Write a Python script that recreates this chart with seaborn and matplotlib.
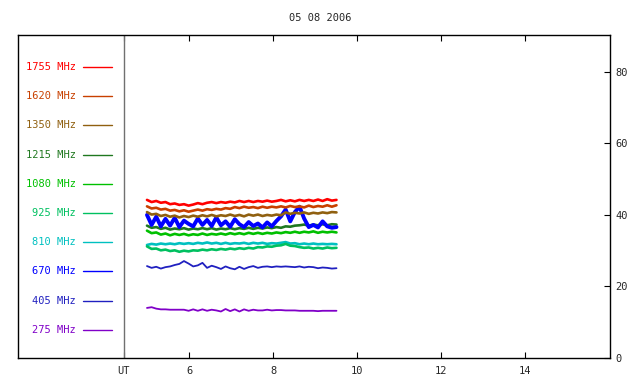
import numpy as np
import pandas as pd
import seaborn as sns
import matplotlib.pyplot as plt

# UT hours of the samples
ut = [5.00, 5.11, 5.22, 5.33, 5.44, 5.55, 5.66, 5.77, 5.88, 5.99, 6.10, 6.21, 6.32, 6.43,
      6.54, 6.65, 6.76, 6.87, 6.98, 7.09, 7.20, 7.31, 7.42, 7.53, 7.64, 7.75, 7.86, 7.97,
      8.08, 8.19, 8.30, 8.41, 8.52, 8.63, 8.74, 8.85, 8.96, 9.07, 9.18, 9.29, 9.40, 9.51]

freqs = ['1755 MHz', '1620 MHz', '1350 MHz', '1215 MHz', '1080 MHz',
         '925 MHz', '810 MHz', '670 MHz', '405 MHz', '275 MHz']
colors = ['#ff0000', '#c84000', '#906010', '#207820', '#00c000',
          '#00c060', '#00c0c0', '#0000ff', '#2020c0', '#8000c8']

f1755 = [44.2, 43.6, 43.9, 43.4, 43.6, 43.0, 43.2, 42.8, 43.0, 42.6, 42.9, 43.3, 43.0, 43.4,
         43.6, 43.3, 43.6, 43.4, 43.7, 43.5, 43.9, 43.6, 43.9, 43.6, 43.9, 43.7, 44.0, 43.7,
         43.9, 44.2, 43.8, 44.1, 43.8, 44.2, 43.9, 44.2, 43.9, 44.3, 43.9, 44.4, 44.0, 44.2]
f1620 = [42.4, 41.8, 42.0, 41.5, 41.7, 41.2, 41.4, 41.0, 41.3, 40.9, 41.2, 41.5, 41.2, 41.6,
         41.4, 41.7, 41.5, 41.9, 41.7, 42.2, 41.9, 42.3, 42.0, 42.2, 41.9, 42.3, 42.0, 42.3,
         42.1, 42.4, 42.1, 42.5, 42.2, 42.4, 42.1, 42.6, 42.2, 42.5, 42.3, 42.7, 42.3, 42.7]
f1350 = [40.8, 40.1, 40.3, 39.7, 40.0, 39.5, 39.8, 39.3, 39.7, 39.4, 39.8, 39.5, 39.9, 39.6,
         40.0, 39.6, 39.9, 39.7, 40.1, 39.7, 40.0, 39.6, 40.1, 39.8, 40.1, 39.7, 40.0, 39.8,
         40.1, 39.9, 40.7, 40.3, 40.6, 40.4, 40.7, 40.3, 40.6, 40.4, 40.7, 40.5, 40.8, 40.7]
f1215 = [37.0, 36.4, 36.6, 36.1, 36.4, 35.9, 36.2, 36.0, 36.3, 35.9, 36.2, 36.0, 36.3, 36.0,
         36.3, 35.9, 36.2, 36.0, 36.3, 36.0, 36.3, 36.1, 36.4, 36.1, 36.4, 36.2, 36.5, 36.3,
         36.6, 36.4, 36.8, 36.7, 37.0, 37.1, 37.3, 37.0, 37.3, 37.1, 37.4, 37.1, 37.4, 37.3]
f1080 = [35.6, 34.9, 35.1, 34.5, 34.8, 34.3, 34.7, 34.4, 34.7, 34.3, 34.6, 34.4, 34.8, 34.4,
         34.7, 34.5, 34.8, 34.5, 34.9, 34.6, 34.9, 34.6, 35.0, 34.7, 35.0, 34.7, 35.0, 34.8,
         35.1, 34.9, 35.2, 35.0, 35.3, 35.0, 35.3, 35.1, 35.4, 35.0, 35.3, 35.1, 35.3, 35.1]
f925 = [31.2, 30.5, 30.6, 30.1, 30.3, 29.9, 30.1, 29.7, 30.0, 29.8, 30.1, 30.0, 30.3, 30.1,
        30.4, 30.2, 30.5, 30.3, 30.6, 30.4, 30.7, 30.5, 30.8, 30.6, 31.0, 30.9, 31.2, 31.1,
        31.4, 31.5, 31.9, 31.4, 31.3, 31.0, 30.8, 30.9, 30.6, 30.8, 30.6, 30.9, 30.7, 30.8]
f810 = [31.6, 31.9, 31.7, 32.0, 31.8, 32.0, 31.8, 32.1, 31.9, 32.1, 31.9, 32.2, 32.0, 32.3,
        32.0, 32.2, 31.9, 32.2, 31.9, 32.1, 32.0, 32.2, 31.9, 32.2, 32.0, 32.2, 31.9, 32.1,
        32.0, 32.2, 32.4, 32.0, 32.1, 31.8, 32.0, 31.8, 32.0, 31.8, 31.9, 31.8, 31.9, 31.8]
f670 = [40.0, 37.2, 39.5, 36.8, 38.9, 37.0, 39.2, 36.6, 38.4, 37.5, 36.8, 39.0, 37.2, 38.6,
        36.9, 39.3, 37.1, 38.2, 36.7, 38.8, 37.4, 36.6, 38.0, 36.9, 37.6, 36.5, 37.9, 36.8,
        38.3, 39.6, 41.5, 38.2, 40.8, 42.3, 39.0, 36.6, 37.2, 36.5, 38.2, 36.8, 36.4, 36.6]
f405 = [25.7, 25.2, 25.5, 25.0, 25.4, 25.6, 26.0, 26.3, 27.1, 26.4, 25.6, 25.9, 26.6, 25.2,
        25.8, 25.4, 24.9, 25.6, 25.1, 24.8, 25.5, 24.9, 25.4, 25.7, 25.2, 25.5, 25.6, 25.4,
        25.6, 25.5, 25.6, 25.5, 25.4, 25.6, 25.3, 25.5, 25.4, 25.1, 25.3, 25.2, 25.0, 25.1]
f275 = [14.0, 14.2, 13.8, 13.6, 13.6, 13.5, 13.5, 13.5, 13.5, 13.2, 13.6, 13.2, 13.6, 13.2,
        13.5, 13.3, 13.0, 13.7, 13.1, 13.6, 13.0, 13.6, 13.2, 13.5, 13.3, 13.3, 13.5, 13.3,
        13.4, 13.4, 13.3, 13.3, 13.3, 13.2, 13.2, 13.2, 13.2, 13.1, 13.2, 13.2, 13.2, 13.2]

series = [f1755, f1620, f1350, f1215, f1080, f925, f810, f670, f405, f275]

rows = []
for name, vals in zip(freqs, series):
    for t, v in zip(ut, vals):
        rows.append({'ut': t, 'flux': v, 'freq': name})
df = pd.DataFrame(rows)

sns.set_style('white')
plt.rcParams['font.family'] = ['DejaVu Sans Mono']

fig = plt.figure(figsize=(6.4, 3.84), dpi=100)
ax = fig.add_axes([18 / 640, 1 - 358 / 384, 592 / 640, 323 / 384])

draw_order = ['275 MHz', '405 MHz', '810 MHz', '925 MHz', '1080 MHz',
              '1215 MHz', '670 MHz', '1350 MHz', '1620 MHz', '1755 MHz']
widths = {'670 MHz': 2.8, '405 MHz': 1.3, '275 MHz': 1.3}
pal = dict(zip(freqs, colors))
for name in draw_order:
    sub = df[df.freq == name]
    sns.lineplot(data=sub, x='ut', y='flux', color=pal[name], ax=ax,
                 linewidth=widths.get(name, 1.9), legend=False)

ax.set_xlim(1.93, 16.02)
ax.set_ylim(0, 90.3)
ax.axvline(4.45, color='#707070', linewidth=1)

# hand-made legend on the left panel
for i, (name, c) in enumerate(zip(freqs, colors)):
    yy = 0.901 - i * 0.0904
    ax.text(0.098, yy, name, color=c, fontsize=7.5, ha='right', va='center',
            transform=ax.transAxes)
    ax.plot([0.110, 0.159], [yy, yy], color=c, linewidth=1, transform=ax.transAxes)

ax.set_xticks([4.45, 6, 8, 10, 12, 14])
ax.set_xticklabels(['UT', '6', '8', '10', '12', '14'])
ax.yaxis.tick_right()
ax.set_yticks([0, 20, 40, 60, 80])
ax.tick_params(axis='x', direction='in', top=True, bottom=True, length=4,
               labelsize=7.5, pad=6, color='black')
ax.tick_params(axis='y', direction='in', right=True, left=False, length=4,
               labelsize=7.5, pad=4, color='black')
ax.set_xlabel('')
ax.set_ylabel('')
for s in ax.spines.values():
    s.set_color('black')
    s.set_linewidth(1)

fig.text(0.5, 1 - 18 / 384, '05 08 2006', ha='center', va='center', fontsize=7.5)

fig.savefig('out.png', dpi=100)
